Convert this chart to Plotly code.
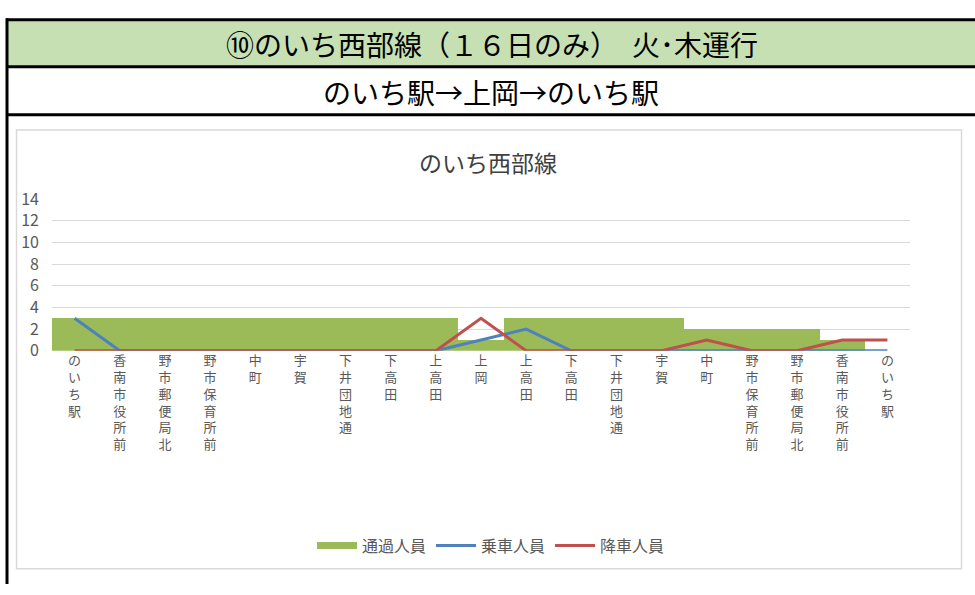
import plotly.graph_objects as go

stations = ["のいち駅", "香南市役所前", "野市郵便局北", "野市保育所前", "中町", "宇賀",
            "下井団地通", "下高田", "上高田", "上岡", "上高田", "下高田", "下井団地通",
            "宇賀", "中町", "野市保育所前", "野市郵便局北", "香南市役所前", "のいち駅"]
passing = [3, 3, 3, 3, 3, 3, 3, 3, 3, 1, 3, 3, 3, 3, 2, 2, 2, 1, 0]
boarding = [3, 0, 0, 0, 0, 0, 0, 0, 0, 1, 2, 0, 0, 0, 0, 0, 0, 0, 0]
alighting = [0, 0, 0, 0, 0, 0, 0, 0, 0, 3, 0, 0, 0, 0, 1, 0, 0, 1, 1]
y_ticks = [0, 2, 4, 6, 8, 10, 12, 14]

header1 = "⑩のいち西部線（１６日のみ）　火･木運行"
header2 = "のいち駅→上岡→のいち駅"
chart_title = "のいち西部線"

W, H = 975, 595
FONT = "Noto Sans CJK JP"
GREEN = "#9BBB59"
BLUE = "#4F81BD"
RED = "#C0504D"
GREY_TXT = "#595959"

def px(x):
    return x / W

def py(y):
    return 1 - y / H

idx = list(range(len(stations)))
ticktext = ["<br>".join(list(s)) for s in stations]

fig = go.Figure()
fig.add_trace(go.Bar(x=idx, y=passing, marker=dict(color=GREEN, line=dict(width=0)),
                     width=1, name="通過人員", showlegend=False, legendgroup="p"))
fig.add_trace(go.Scatter(x=[None], y=[None], mode="lines", name="通過人員",
                         line=dict(color=GREEN, width=7), legendgroup="p"))
fig.add_trace(go.Scatter(x=idx, y=boarding, mode="lines", name="乗車人員",
                         line=dict(color=BLUE, width=3)))
fig.add_trace(go.Scatter(x=idx, y=alighting, mode="lines", name="降車人員",
                         line=dict(color=RED, width=3)))

shapes = [
    dict(type="rect", xref="paper", yref="paper", x0=px(7), x1=1, y0=py(56), y1=py(7),
         fillcolor="#C6E0B4", line=dict(width=0), layer="below"),
    dict(type="rect", xref="paper", yref="paper", x0=px(16.5), x1=px(961.5), y0=py(579), y1=py(122),
         fillcolor="rgba(0,0,0,0)", line=dict(color="#D9D9D9", width=1.5), layer="below"),
    dict(type="line", xref="paper", yref="paper", x0=px(6), x1=1, y0=py(7), y1=py(7),
         line=dict(color="black", width=3)),
    dict(type="line", xref="paper", yref="paper", x0=px(6), x1=1, y0=py(56), y1=py(56),
         line=dict(color="black", width=3)),
    dict(type="line", xref="paper", yref="paper", x0=px(6), x1=1, y0=py(106), y1=py(106),
         line=dict(color="black", width=3)),
    dict(type="line", xref="paper", yref="paper", x0=px(7), x1=px(7), y0=0, y1=py(5.5),
         line=dict(color="black", width=3)),
]

annotations = [
    dict(text=header1, xref="paper", yref="paper", x=px(492), y=py(32), showarrow=False,
         xanchor="center", yanchor="middle", font=dict(family=FONT, size=28, color="black")),
    dict(text=header2, xref="paper", yref="paper", x=px(491), y=py(82), showarrow=False,
         xanchor="center", yanchor="middle", font=dict(family=FONT, size=28, color="black")),
    dict(text=chart_title, xref="paper", yref="paper", x=px(488), y=py(155), showarrow=False,
         xanchor="center", yanchor="middle", font=dict(family=FONT, size=23, color="#404040")),
]

fig.update_layout(
    width=W, height=H, autosize=False,
    margin=dict(l=0, r=0, t=0, b=0),
    paper_bgcolor="white", plot_bgcolor="white",
    bargap=0,
    shapes=shapes, annotations=annotations,
    showlegend=True,
    legend=dict(orientation="h", x=px(491), xanchor="center", y=py(555), yanchor="middle",
                font=dict(family=FONT, size=16, color=GREY_TXT), itemwidth=40,
                bgcolor="rgba(0,0,0,0)"),
    xaxis=dict(domain=[px(52), px(910)], range=[-0.5, len(stations) - 0.5],
               tickvals=idx, ticktext=ticktext, tickangle=0, showgrid=False, zeroline=False,
               showline=False, ticks="", tickfont=dict(family=FONT, size=13, color=GREY_TXT)),
    yaxis=dict(domain=[py(352), py(194)], range=[0, 14], tickvals=y_ticks,
               showgrid=True, gridcolor="#D9D9D9", gridwidth=1, zeroline=False,
               ticks="", ticklabelstandoff=12,
               tickfont=dict(family=FONT, size=16, color=GREY_TXT)),
    hovermode=False,
)

fig.write_html(
    "out.html",
    config={"responsive": False, "displayModeBar": False, "staticPlot": True},
    post_script=("document.documentElement.style.margin='0';"
                 "document.documentElement.style.overflow='hidden';"
                 "document.body.style.margin='0';document.body.style.overflow='hidden';"),
)
